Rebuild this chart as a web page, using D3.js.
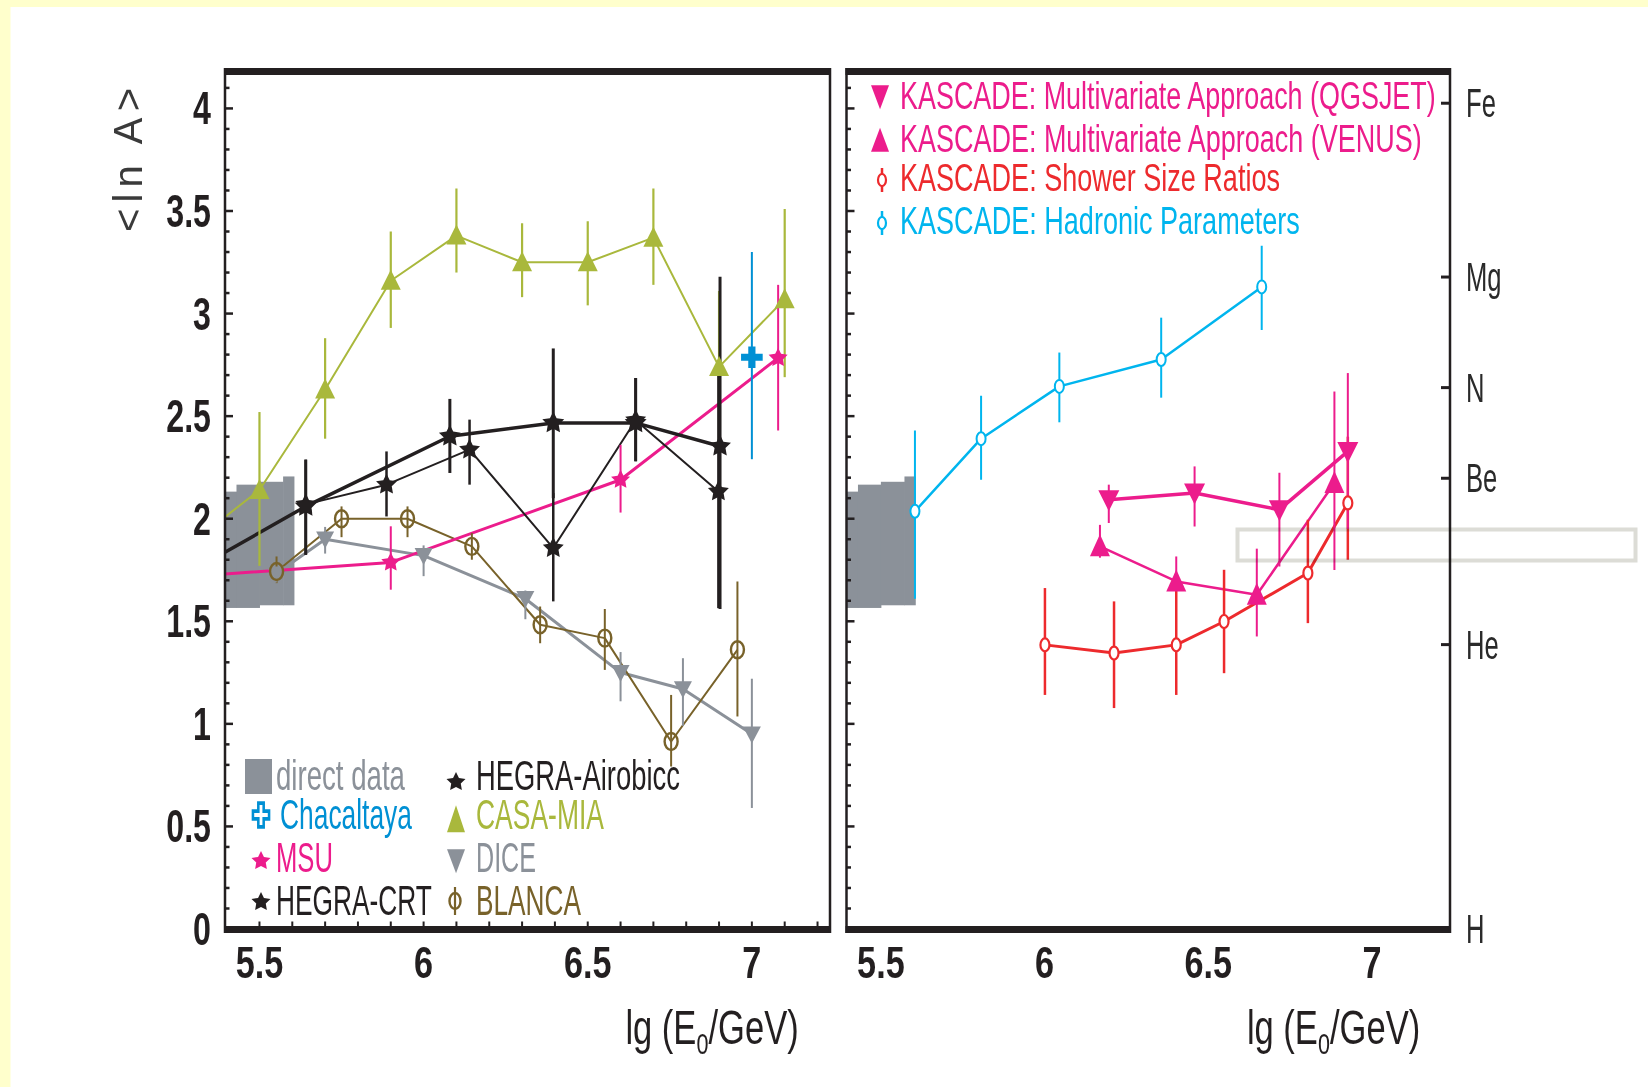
<!DOCTYPE html>
<html><head><meta charset="utf-8">
<script src="https://cdn.jsdelivr.net/npm/d3@7"></script>
<style>body{margin:0;background:#fff;} svg{display:block;}</style>
</head><body>
<script>
// ---------------- data ----------------
const xTickValues = [5.5, 6, 6.5, 7];
const xTickLabels = ["5.5", "6", "6.5", "7"];
const yTickValues = [0, 0.5, 1, 1.5, 2, 2.5, 3, 3.5, 4];
const yTickLabels = ["0", "0.5", "1", "1.5", "2", "2.5", "3", "3.5", "4"];
const elementNames = ["H", "He", "Be", "N", "Mg", "Fe"];
const elementMass = [1, 4, 9, 14, 24, 56];

// direct data band (step edges, upper / lower per step)
const directEdges = [5.30, 5.43, 5.50, 5.572, 5.605];
const directHi = [2.132, 2.166, 2.18, 2.206];
const directLo = [1.565, 1.565, 1.578, 1.578];

// left panel
const casaX  = [5.3, 5.5, 5.7, 5.9, 6.1, 6.3, 6.5, 6.7, 6.9, 7.1];
const casaY  = [1.89, 2.14, 2.63, 3.16, 3.38, 3.25, 3.25, 3.37, 2.74, 3.07];
const casaLo = [1.89, 1.77, 2.39, 2.93, 3.20, 3.08, 3.04, 3.14, 2.39, 2.69];
const casaHi = [1.89, 2.52, 2.88, 3.40, 3.61, 3.44, 3.45, 3.61, 3.11, 3.51];

const msuX  = [5.3, 5.9, 6.6, 7.08];
const msuY  = [1.72, 1.787, 2.19, 2.784];
const msuLo = [1.72, 1.654, 2.03, 2.43];
const msuHi = [1.72, 1.963, 2.36, 3.14];

const chacX  = [7.0];
const chacY  = [2.787];
const chacLo = [2.29];
const chacHi = [3.30];

const diceX  = [5.55, 5.70, 6.00, 6.31, 6.60, 6.79, 7.00];
const diceY  = [1.73, 1.90, 1.82, 1.61, 1.25, 1.17, 0.95];
const diceLo = [1.73, 1.83, 1.72, 1.51, 1.11, 0.99, 0.59];
const diceHi = [1.73, 1.96, 1.87, 1.65, 1.35, 1.32, 1.22];

const blancaX  = [5.552, 5.75, 5.951, 6.147, 6.355, 6.552, 6.754, 6.956];
const blancaY  = [1.743, 2.0, 2.0, 1.865, 1.483, 1.418, 0.914, 1.361];
const blancaLo = [1.686, 1.91, 1.91, 1.80, 1.393, 1.263, 0.792, 1.036];
const blancaHi = [1.816, 2.06, 2.06, 1.93, 1.572, 1.56, 1.141, 1.694];

const airX  = [5.3, 5.641, 6.08, 6.395, 6.646, 6.903];
const airY  = [1.75, 2.06, 2.402, 2.467, 2.467, 2.353];
const airLo = [1.75, 1.824, 2.223, 2.10, 2.28, 1.56];
const airHi = [1.75, 2.288, 2.584, 2.83, 2.686, 3.18];

const crtX  = [5.641, 5.887, 6.14, 6.395, 6.646, 6.898];
const crtY  = [2.07, 2.166, 2.337, 1.857, 2.48, 2.133];
const crtLo = [1.824, 2.011, 2.166, 1.597, 2.28, 1.564];
const crtHi = [2.288, 2.328, 2.483, 2.125, 2.686, 2.70];

// right panel (KASCADE)
const hadX  = [5.604, 5.806, 6.045, 6.356, 6.663];
const hadY  = [2.036, 2.39, 2.645, 2.776, 3.13];
const hadLo = [1.61, 2.19, 2.47, 2.59, 2.92];
const hadHi = [2.43, 2.60, 2.81, 2.98, 3.33];

const qgsX  = [6.196, 6.458, 6.717, 6.926];
const qgsY  = [2.093, 2.125, 2.044, 2.328];
const qgsLo = [1.979, 1.962, 1.767, 1.95];
const qgsHi = [2.166, 2.255, 2.224, 2.71];

const venX  = [6.169, 6.402, 6.648, 6.885];
const venY  = [1.865, 1.694, 1.629, 2.174];
const venLo = [1.81, 1.654, 1.426, 1.75];
const venHi = [1.97, 1.816, 1.854, 2.62];

const ssrX  = [6.001, 6.212, 6.402, 6.548, 6.804, 6.926];
const ssrY  = [1.385, 1.345, 1.385, 1.499, 1.735, 2.077];
const ssrLo = [1.141, 1.077, 1.141, 1.247, 1.491, 1.80];
const ssrHi = [1.662, 1.597, 1.662, 1.751, 1.995, 2.40];

const leftLegend = ["direct data", "Chacaltaya", "MSU", "HEGRA-CRT", "HEGRA-Airobicc", "CASA-MIA", "DICE", "BLANCA"];
const rightLegend = ["KASCADE: Multivariate Approach (QGSJET)", "KASCADE: Multivariate Approach (VENUS)",
                     "KASCADE: Shower Size Ratios", "KASCADE: Hadronic Parameters"];

// ---------------- styles ----------------
const C = {
  black: "#231f20", casa: "#a9b83c", msu: "#ec1c8c", chac: "#0090d4", dice: "#8b9199",
  blanca: "#78622a", direct: "#8b9199", red: "#ed2a2d", cyan: "#00b5ee", pink: "#ec1c8c"
};
const FONT = "'Liberation Sans', Arial, Helvetica, sans-serif";

const W = 1648, H = 1087;
const svg = d3.select("body").append("svg").attr("width", W).attr("height", H);
svg.append("rect").attr("width", W).attr("height", H).attr("fill", "#ffffcc");
svg.append("rect").attr("x", 10.5).attr("y", 7).attr("width", W).attr("height", H).attr("fill", "#ffffff");

const xDom = [5.395, 7.238], yDom = [0, 4.18];
const yTop = 71.5, yBot = 929;
const panels = [{x0: 225, x1: 830}, {x0: 846.5, x1: 1450}];
panels.forEach(p => {
  p.x = d3.scaleLinear().domain(xDom).range([p.x0, p.x1]);
  p.y = d3.scaleLinear().domain(yDom).range([yBot, yTop]);
});

const defs = svg.append("defs");
panels.forEach((p, i) => {
  defs.append("clipPath").attr("id", "clip" + i).append("rect")
    .attr("x", p.x0).attr("y", yTop).attr("width", p.x1 - p.x0).attr("height", yBot - yTop);
});

function stext(g, s, x, y, o) {
  return g.append("text")
    .attr("transform", `translate(${x},${y}) scale(${o.sx || 1},1)`)
    .attr("font-family", FONT).attr("font-size", o.size)
    .attr("font-weight", o.weight || "normal")
    .attr("fill", o.fill || C.black)
    .attr("text-anchor", o.anchor || "start")
    .text(s);
}
// text condensed horizontally to a target width (measured, then scaled)
function ltext(g, s, x, y, o) {
  const t = g.append("text")
    .attr("font-family", FONT).attr("font-size", o.size)
    .attr("font-weight", o.weight || "normal")
    .attr("fill", o.fill || C.black)
    .text(s);
  const natural = t.node().getComputedTextLength() || o.len;
  t.attr("transform", `translate(${x},${y}) scale(${o.len / natural},1)`);
  return t;
}

function starPath(R, r) {
  const pts = [];
  for (let k = 0; k < 10; k++) {
    const a = -Math.PI / 2 + k * Math.PI / 5;
    const rr = k % 2 === 0 ? R : r;
    pts.push([rr * Math.cos(a), rr * Math.sin(a)]);
  }
  return "M" + pts.map(p => p[0].toFixed(2) + "," + p[1].toFixed(2)).join("L") + "Z";
}

function marker(g, type, cx, cy, color, s) {
  const tr = `translate(${cx},${cy})`;
  if (type === "star") {
    g.append("path").attr("d", starPath(s.R, s.R * 0.5)).attr("transform", tr).attr("fill", color);
  } else if (type === "tri") {
    const w = s.w, h = s.h;
    g.append("path").attr("d", `M0,${-0.55*h}L${w/2},${0.45*h}L${-w/2},${0.45*h}Z`).attr("transform", tr).attr("fill", color);
  } else if (type === "itri") {
    const w = s.w, h = s.h;
    g.append("path").attr("d", `M0,${0.55*h}L${w/2},${-0.45*h}L${-w/2},${-0.45*h}Z`).attr("transform", tr).attr("fill", color);
  } else if (type === "cross") {
    g.append("path").attr("d", d3.symbol(d3.symbolCross, s.size)()).attr("transform", tr).attr("fill", color);
  } else if (type === "ocircle") {
    g.append("ellipse").attr("cx", cx).attr("cy", cy).attr("rx", s.rx).attr("ry", s.ry)
      .attr("fill", "none").attr("stroke", color).attr("stroke-width", s.sw);
  } else if (type === "wcircle") {
    g.append("ellipse").attr("cx", cx).attr("cy", cy).attr("rx", s.rx).attr("ry", s.ry)
      .attr("fill", "#fff").attr("stroke", color).attr("stroke-width", s.sw);
  }
}

function drawPanel(p, idx, series) {
  const g = svg.append("g");
  const clip = g.append("g").attr("clip-path", `url(#clip${idx})`);
  for (let i = 0; i < directHi.length; i++) {
    clip.append("rect")
      .attr("x", p.x(directEdges[i])).attr("width", p.x(directEdges[i + 1]) - p.x(directEdges[i]) + 0.5)
      .attr("y", p.y(directHi[i])).attr("height", p.y(directLo[i]) - p.y(directHi[i]))
      .attr("fill", C.direct);
  }
  const line = d3.line().x(d => p.x(d[0])).y(d => p.y(d[1]));
  series.forEach(s => {
    if (!s.lw) return;
    const pts = s.x.map((v, i) => [v, s.y[i]]);
    clip.append("path").attr("d", line(pts)).attr("fill", "none")
      .attr("stroke", s.color).attr("stroke-width", s.lw).attr("stroke-linejoin", "round");
  });
  series.forEach(s => {
    s.x.forEach((v, i) => {
      if (s.hi[i] - s.lo[i] < 1e-6) return;
      clip.append("line").attr("x1", p.x(v)).attr("x2", p.x(v))
        .attr("y1", p.y(s.lo[i])).attr("y2", p.y(s.hi[i]))
        .attr("stroke", s.color).attr("stroke-width", s.ew);
    });
  });
  series.forEach(s => {
    s.x.forEach((v, i) => marker(clip, s.marker, p.x(v), p.y(s.y[i]), s.color, s.ms));
  });
  // frame
  g.append("rect").attr("x", p.x0 - 1).attr("y", 68).attr("width", p.x1 - p.x0 + 2).attr("height", 7).attr("fill", C.black);
  g.append("rect").attr("x", p.x0 - 1).attr("y", 926).attr("width", p.x1 - p.x0 + 2).attr("height", 7).attr("fill", C.black);
  g.append("line").attr("x1", p.x0).attr("x2", p.x0).attr("y1", 68).attr("y2", 933).attr("stroke", C.black).attr("stroke-width", 2.5);
  g.append("line").attr("x1", p.x1).attr("x2", p.x1).attr("y1", 68).attr("y2", 933).attr("stroke", C.black).attr("stroke-width", 2.5);
  d3.range(0, 42).forEach(k => {
    const v = k / 10, major = k % 5 === 0;
    g.append("line").attr("x1", p.x0).attr("x2", p.x0 + (major ? 8 : 4.5))
      .attr("y1", p.y(v)).attr("y2", p.y(v)).attr("stroke", C.black).attr("stroke-width", 2.5);
  });
  if (idx === 0) {
    d3.range(55, 73).forEach(k => {
      const v = k / 10;
      g.append("line").attr("x1", p.x(v)).attr("x2", p.x(v)).attr("y1", 926).attr("y2", 921.5)
        .attr("stroke", C.black).attr("stroke-width", 2);
    });
  }
  xTickValues.forEach((v, i) => {
    stext(g, xTickLabels[i], p.x(v), 978, {size: 45, weight: "bold", sx: 0.76, anchor: "middle"});
  });
  const cx = p.x0 + (p.x1 - p.x0) * (idx === 0 ? 0.805 : 0.807);
  const t = g.append("text").attr("transform", `translate(${cx},1044) scale(0.72,1)`)
    .attr("font-family", FONT).attr("font-size", 48).attr("fill", C.black).attr("text-anchor", "middle");
  t.append("tspan").text("lg (E");
  t.append("tspan").attr("font-size", 30).attr("dy", 10).text("0");
  t.append("tspan").attr("dy", -10).text("/GeV)");
  return g;
}

// ---------------- left panel ----------------
const pL = panels[0];
const leftSeries = [
  {x: diceX, y: diceY, lo: diceLo, hi: diceHi, color: C.dice, lw: 3, ew: 2, marker: "itri", ms: {w: 18, h: 17}},
  {x: blancaX, y: blancaY, lo: blancaLo, hi: blancaHi, color: C.blanca, lw: 2, ew: 2, marker: "ocircle", ms: {rx: 6.5, ry: 8.5, sw: 2.4}},
  {x: casaX, y: casaY, lo: casaLo, hi: casaHi, color: C.casa, lw: 2, ew: 2.2, marker: "tri", ms: {w: 20, h: 20}},
  {x: msuX, y: msuY, lo: msuLo, hi: msuHi, color: C.msu, lw: 3, ew: 2, marker: "star", ms: {R: 10}},
  {x: crtX, y: crtY, lo: crtLo, hi: crtHi, color: C.black, lw: 2, ew: 2.5, marker: "star", ms: {R: 11}},
  {x: airX, y: airY, lo: airLo, hi: airHi, color: C.black, lw: 3.5, ew: 3, marker: "star", ms: {R: 11.5}},
  {x: chacX, y: chacY, lo: chacLo, hi: chacHi, color: C.chac, lw: 0, ew: 2, marker: "cross", ms: {size: 260}}
];
const gL = drawPanel(pL, 0, leftSeries);

yTickValues.forEach((v, i) => {
  stext(gL, yTickLabels[i], 211, pL.y(v) + 16, {size: 46, weight: "bold", sx: 0.7, anchor: "end"});
});
svg.append("text").attr("transform", "translate(142,160) rotate(-90)")
  .attr("font-family", FONT).attr("font-size", 40).attr("fill", "#3a3a3a")
  .attr("text-anchor", "middle").attr("textLength", 144).attr("lengthAdjust", "spacing")
  .text("<ln A>");

// left legend
const lg = svg.append("g");
lg.append("rect").attr("x", 245).attr("y", 759).attr("width", 27).attr("height", 35).attr("fill", C.direct);
ltext(lg, leftLegend[0], 276, 790, {size: 42, fill: C.dice, len: 129});
lg.append("path").attr("d", d3.symbol(d3.symbolCross, 200)()).attr("transform", "translate(261,815) scale(0.85,1.25)")
  .attr("fill", "#fff").attr("stroke", C.chac).attr("stroke-width", 3);
ltext(lg, leftLegend[1], 280, 829, {size: 42, fill: C.chac, len: 132});
marker(lg, "star", 261, 861, C.msu, {R: 10});
ltext(lg, leftLegend[2], 276, 872, {size: 42, fill: C.msu, len: 57});
marker(lg, "star", 261, 902, C.black, {R: 10});
ltext(lg, leftLegend[3], 276, 915, {size: 42, fill: C.black, len: 156});
marker(lg, "star", 456, 782, C.black, {R: 10});
ltext(lg, leftLegend[4], 476, 790, {size: 42, fill: C.black, len: 204});
marker(lg, "tri", 456, 820, C.casa, {w: 18, h: 27});
ltext(lg, leftLegend[5], 476, 829, {size: 42, fill: C.casa, len: 128});
marker(lg, "itri", 456, 860, C.dice, {w: 18, h: 24});
ltext(lg, leftLegend[6], 476, 872, {size: 42, fill: C.dice, len: 60});
lg.append("line").attr("x1", 455).attr("x2", 455).attr("y1", 887).attr("y2", 915).attr("stroke", C.blanca).attr("stroke-width", 2.2);
lg.append("ellipse").attr("cx", 455).attr("cy", 901).attr("rx", 5.5).attr("ry", 8).attr("fill", "none").attr("stroke", C.blanca).attr("stroke-width", 2.4);
ltext(lg, leftLegend[7], 476, 915, {size: 42, fill: C.blanca, len: 105});

// ---------------- right panel ----------------
const pR = panels[1];
const rightSeries = [
  {x: hadX, y: hadY, lo: hadLo, hi: hadHi, color: C.cyan, lw: 2.5, ew: 2, marker: "wcircle", ms: {rx: 4.5, ry: 6.5, sw: 2}},
  {x: ssrX, y: ssrY, lo: ssrLo, hi: ssrHi, color: C.red, lw: 3, ew: 2.5, marker: "wcircle", ms: {rx: 4.5, ry: 6.5, sw: 2.2}},
  {x: venX, y: venY, lo: venLo, hi: venHi, color: C.pink, lw: 2.5, ew: 2, marker: "tri", ms: {w: 20, h: 22}},
  {x: qgsX, y: qgsY, lo: qgsLo, hi: qgsHi, color: C.pink, lw: 3.5, ew: 2, marker: "itri", ms: {w: 21, h: 21}}
];
const gR = drawPanel(pR, 1, rightSeries);

elementMass.forEach((m, i) => {
  const yy = pR.y(Math.log(m));
  gR.append("line").attr("x1", pR.x1 - 9).attr("x2", pR.x1).attr("y1", yy).attr("y2", yy)
    .attr("stroke", C.black).attr("stroke-width", 3);
  stext(gR, elementNames[i], 1466, yy + 14, {size: 40, sx: 0.64, fill: "#2a2a2a"});
});

// right legend
const rg = svg.append("g");
marker(rg, "itri", 880, 96, C.pink, {w: 18, h: 24});
ltext(rg, rightLegend[0], 900, 109, {size: 39, fill: C.pink, len: 536});
marker(rg, "tri", 880, 141, C.pink, {w: 18, h: 24});
ltext(rg, rightLegend[1], 900, 152, {size: 39, fill: C.pink, len: 522});
rg.append("line").attr("x1", 882).attr("x2", 882).attr("y1", 168).attr("y2", 192).attr("stroke", C.red).attr("stroke-width", 2.5);
rg.append("ellipse").attr("cx", 882).attr("cy", 180).attr("rx", 4).attr("ry", 6).attr("fill", "#fff").attr("stroke", C.red).attr("stroke-width", 2.2);
ltext(rg, rightLegend[2], 900, 191, {size: 39, fill: C.red, len: 380});
rg.append("line").attr("x1", 882).attr("x2", 882).attr("y1", 211).attr("y2", 235).attr("stroke", C.cyan).attr("stroke-width", 2.5);
rg.append("ellipse").attr("cx", 882).attr("cy", 223).attr("rx", 4).attr("ry", 6).attr("fill", "#fff").attr("stroke", C.cyan).attr("stroke-width", 2.2);
ltext(rg, rightLegend[3], 900, 234, {size: 39, fill: C.cyan, len: 400});

// faint grey box artifact
svg.append("rect").attr("x", 1237.5).attr("y", 529.5).attr("width", 398).attr("height", 31)
  .attr("fill", "none").attr("stroke", "#dcdcd6").attr("stroke-width", 4)
  .style("mix-blend-mode", "multiply");
</script>
</body></html>
